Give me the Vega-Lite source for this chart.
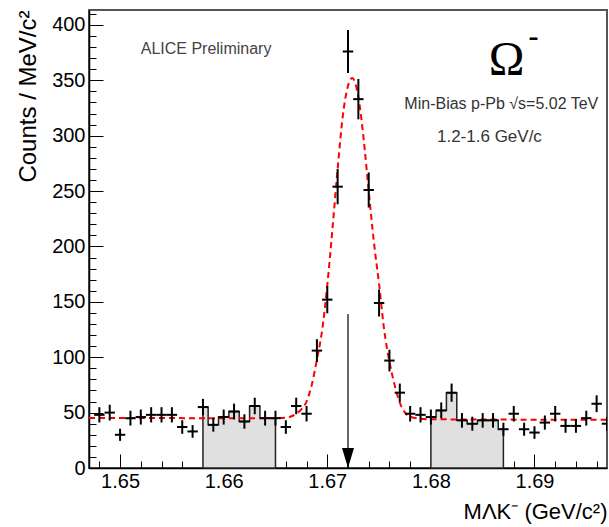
{
  "$schema": "https://vega.github.io/schema/vega-lite/v6.json",
  "width": 518,
  "height": 458,
  "autosize": "none",
  "padding": {"left": 89, "top": 10, "right": 2, "bottom": 59},
  "background": "white",
  "config": {
    "view": {"stroke": "#555", "strokeWidth": 2},
    "axis": {"labelFont": "Liberation Sans", "labelFontSize": 20, "labelColor": "#000", "titleFont": "Liberation Sans", "titleFontSize": 22, "titleFontWeight": "normal", "titleColor": "#000", "domainColor": "#000", "domainWidth": 1.5, "tickColor": "#000", "tickWidth": 1, "grid": false, "labelOverlap": false, "labelFlush": false},
    "text": {"font": "Liberation Sans"}
  },
  "resolve": {"axis": {"x": "independent", "y": "independent"}},
  "datasets": {
    "pts": [
      {"m": 1.648, "n": 48, "err": 6.9}, {"m": 1.649, "n": 50, "err": 7.1}, {"m": 1.650, "n": 30, "err": 5.5},
      {"m": 1.651, "n": 45, "err": 6.7}, {"m": 1.652, "n": 46, "err": 6.8}, {"m": 1.653, "n": 48, "err": 6.9},
      {"m": 1.654, "n": 48, "err": 6.9}, {"m": 1.655, "n": 48, "err": 6.9}, {"m": 1.656, "n": 37, "err": 6.1},
      {"m": 1.657, "n": 33, "err": 5.7}, {"m": 1.658, "n": 55, "err": 7.4}, {"m": 1.659, "n": 39, "err": 6.2},
      {"m": 1.660, "n": 46, "err": 6.8}, {"m": 1.661, "n": 51, "err": 7.1}, {"m": 1.662, "n": 42, "err": 6.5},
      {"m": 1.663, "n": 56, "err": 7.5}, {"m": 1.664, "n": 45, "err": 6.7}, {"m": 1.665, "n": 45, "err": 6.7},
      {"m": 1.666, "n": 37, "err": 6.1}, {"m": 1.667, "n": 56, "err": 7.5}, {"m": 1.668, "n": 49, "err": 7.0},
      {"m": 1.669, "n": 106, "err": 10.3}, {"m": 1.670, "n": 152, "err": 12.3}, {"m": 1.671, "n": 254, "err": 15.9},
      {"m": 1.672, "n": 376, "err": 19.4}, {"m": 1.673, "n": 333, "err": 18.2}, {"m": 1.674, "n": 251, "err": 15.8},
      {"m": 1.675, "n": 149, "err": 12.2}, {"m": 1.676, "n": 97, "err": 9.8}, {"m": 1.677, "n": 68, "err": 8.2},
      {"m": 1.678, "n": 49, "err": 7.0}, {"m": 1.679, "n": 48, "err": 6.9}, {"m": 1.680, "n": 46, "err": 6.8},
      {"m": 1.681, "n": 52, "err": 7.2}, {"m": 1.682, "n": 68, "err": 8.2}, {"m": 1.683, "n": 43, "err": 6.6},
      {"m": 1.684, "n": 40, "err": 6.3}, {"m": 1.685, "n": 43, "err": 6.6}, {"m": 1.686, "n": 43, "err": 6.6},
      {"m": 1.687, "n": 35, "err": 5.9}, {"m": 1.688, "n": 49, "err": 7.0}, {"m": 1.689, "n": 35, "err": 5.9},
      {"m": 1.690, "n": 32, "err": 5.7}, {"m": 1.691, "n": 41, "err": 6.4}, {"m": 1.692, "n": 49, "err": 7.0},
      {"m": 1.693, "n": 38, "err": 6.2}, {"m": 1.694, "n": 38, "err": 6.2}, {"m": 1.695, "n": 45, "err": 6.7},
      {"m": 1.696, "n": 58, "err": 7.6}, {"m": 1.697, "n": 40, "err": 6.3}
    ],
    "fit": [
      {"m": 1.647, "f": 45.2}, {"m": 1.660, "f": 45.0}, {"m": 1.665, "f": 45.0}, {"m": 1.666, "f": 45.5},
      {"m": 1.6665, "f": 46.5}, {"m": 1.667, "f": 49}, {"m": 1.6675, "f": 53}, {"m": 1.668, "f": 60},
      {"m": 1.6685, "f": 75}, {"m": 1.669, "f": 98}, {"m": 1.6695, "f": 124}, {"m": 1.670, "f": 165},
      {"m": 1.6705, "f": 216}, {"m": 1.671, "f": 270}, {"m": 1.6715, "f": 318}, {"m": 1.672, "f": 345},
      {"m": 1.6724, "f": 352}, {"m": 1.673, "f": 335}, {"m": 1.6735, "f": 298}, {"m": 1.674, "f": 250},
      {"m": 1.6745, "f": 204}, {"m": 1.675, "f": 166}, {"m": 1.6755, "f": 124}, {"m": 1.676, "f": 96},
      {"m": 1.6765, "f": 75}, {"m": 1.677, "f": 59}, {"m": 1.6775, "f": 50}, {"m": 1.678, "f": 46.3},
      {"m": 1.679, "f": 44.5}, {"m": 1.680, "f": 44}, {"m": 1.697, "f": 43.5}
    ]
  },
  "layer": [
    {
      "data": {"name": "pts"},
      "transform": [{"filter": {"field": "m", "range": [1.658, 1.665]}}],
      "mark": {"type": "area", "interpolate": "step", "fill": "#e0e0e0", "stroke": "#222", "strokeWidth": 1.5},
      "encoding": {
        "x": {"field": "m", "type": "quantitative",
          "scale": {"domain": [1.647, 1.697], "nice": false, "zero": false},
          "axis": {
            "orient": "bottom",
            "values": [1.65, 1.66, 1.67, 1.68, 1.69],
            "format": ".2f",
            "tickSize": -14,
            "labelPadding": 17,
            "labelOverlap": false,
            "title": "MΛK⁻ (GeV/c²)",
            "titleAnchor": "end",
            "titlePadding": 10
          }
        },
        "y": {"field": "n", "type": "quantitative",
          "scale": {"domain": [0, 413.5], "nice": false},
          "axis": {
            "orient": "left",
            "values": [0, 50, 100, 150, 200, 250, 300, 350, 400],
            "tickSize": -14,
            "labelPadding": 18,
            "labelOverlap": false,
            "title": "Counts / MeV/c²",
            "titleFontSize": 24,
            "titleAnchor": "end",
            "titlePadding": 11
          }
        }
      }
    },
    {
      "data": {"name": "pts"},
      "transform": [{"filter": {"field": "m", "range": [1.680, 1.687]}}],
      "mark": {"type": "area", "interpolate": "step", "fill": "#e0e0e0", "stroke": "#222", "strokeWidth": 1.5},
      "encoding": {
        "x": {"field": "m", "type": "quantitative",
          "axis": {
            "orient": "bottom",
            "values": [1.648, 1.652, 1.654, 1.656, 1.658, 1.662, 1.664, 1.666, 1.668, 1.672, 1.674, 1.676, 1.678, 1.682, 1.684, 1.686, 1.688, 1.692, 1.694, 1.696],
            "tickSize": -7,
            "labels": false,
            "domain": false,
            "title": null
          }
        },
        "y": {"field": "n", "type": "quantitative",
          "axis": {
            "orient": "left",
            "values": [10, 20, 30, 40, 60, 70, 80, 90, 110, 120, 130, 140, 160, 170, 180, 190, 210, 220, 230, 240, 260, 270, 280, 290, 310, 320, 330, 340, 360, 370, 380, 390, 410],
            "tickSize": -7,
            "labels": false,
            "domain": false,
            "title": null
          }
        }
      }
    },
    {
      "data": {"name": "fit"},
      "mark": {"type": "line", "interpolate": "monotone", "color": "#ff0000", "strokeWidth": 2, "strokeDash": [6, 4]},
      "encoding": {
        "x": {"field": "m", "type": "quantitative", "axis": null},
        "y": {"field": "f", "type": "quantitative", "axis": null}
      }
    },
    {
      "data": {"name": "pts"},
      "mark": {"type": "errorbar", "color": "#000", "rule": {"strokeWidth": 2}, "clip": true},
      "encoding": {
        "x": {"field": "m", "type": "quantitative", "axis": null},
        "y": {"field": "n", "type": "quantitative", "axis": null},
        "yError": {"field": "err"}
      }
    },
    {
      "data": {"name": "pts"},
      "mark": {"type": "tick", "orient": "horizontal", "size": 10.4, "thickness": 2, "color": "#000", "opacity": 1, "clip": true},
      "encoding": {
        "x": {"field": "m", "type": "quantitative", "axis": null},
        "y": {"field": "n", "type": "quantitative", "axis": null}
      }
    },
    {
      "data": {"values": [{}]},
      "mark": {"type": "rule", "color": "#000", "strokeWidth": 1.2},
      "encoding": {
        "x": {"datum": 1.672, "type": "quantitative", "axis": null},
        "y": {"datum": 139, "type": "quantitative", "axis": null},
        "y2": {"datum": 0}
      }
    },
    {
      "data": {"values": [{}]},
      "mark": {"type": "point", "shape": "M-0.6,-2L0.6,-2L0,0Z", "size": 400, "filled": true, "color": "#000", "opacity": 1},
      "encoding": {
        "x": {"datum": 1.672, "type": "quantitative", "axis": null},
        "y": {"datum": 0, "type": "quantitative", "axis": null}
      }
    },
    {
      "data": {"values": [{}]},
      "mark": {"type": "text", "fontSize": 16, "color": "#444", "align": "center", "baseline": "middle"},
      "encoding": {
        "x": {"datum": 1.6583, "type": "quantitative", "axis": null},
        "y": {"datum": 378, "type": "quantitative", "axis": null},
        "text": {"value": "ALICE Preliminary"}
      }
    },
    {
      "data": {"values": [{}]},
      "mark": {"type": "text", "font": "Liberation Serif", "fontSize": 48, "color": "#000", "align": "center", "baseline": "alphabetic"},
      "encoding": {
        "x": {"datum": 1.6873, "type": "quantitative", "axis": null},
        "y": {"datum": 355, "type": "quantitative", "axis": null},
        "text": {"value": "Ω"}
      }
    },
    {
      "data": {"values": [{}]},
      "mark": {"type": "text", "font": "Liberation Serif", "fontSize": 30, "fontWeight": "bold", "color": "#000", "align": "center", "baseline": "middle"},
      "encoding": {
        "x": {"datum": 1.6899, "type": "quantitative", "axis": null},
        "y": {"datum": 389, "type": "quantitative", "axis": null},
        "text": {"value": "-"}
      }
    },
    {
      "data": {"values": [{}]},
      "mark": {"type": "text", "fontSize": 16, "color": "#333", "align": "center", "baseline": "middle"},
      "encoding": {
        "x": {"datum": 1.6868, "type": "quantitative", "axis": null},
        "y": {"datum": 328.7, "type": "quantitative", "axis": null},
        "text": {"value": "Min-Bias p-Pb √s=5.02 TeV"}
      }
    },
    {
      "data": {"values": [{}]},
      "mark": {"type": "text", "fontSize": 17, "color": "#333", "align": "center", "baseline": "middle"},
      "encoding": {
        "x": {"datum": 1.68565, "type": "quantitative", "axis": null},
        "y": {"datum": 299, "type": "quantitative", "axis": null},
        "text": {"value": "1.2-1.6 GeV/c"}
      }
    }
  ]
}
